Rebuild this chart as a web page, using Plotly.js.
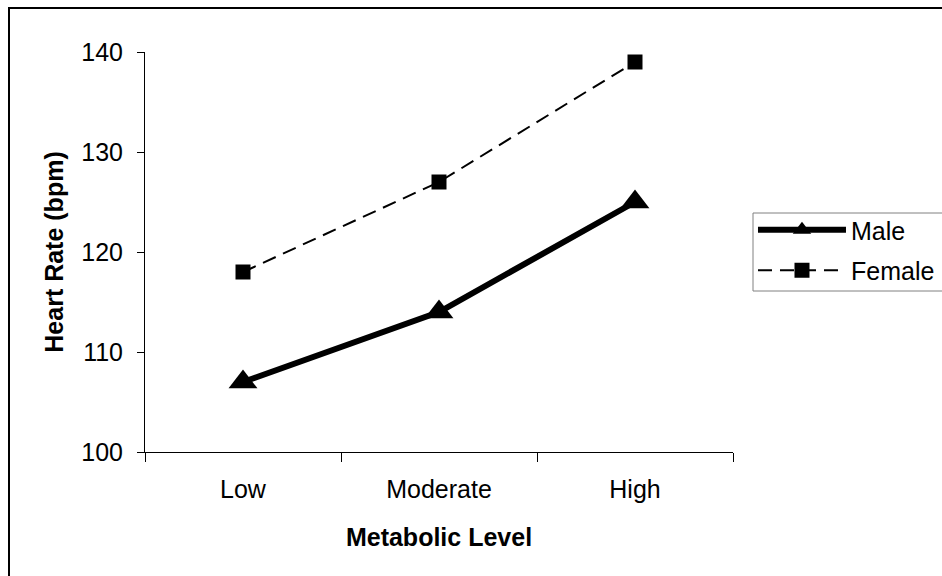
<!DOCTYPE html>
<html>
<head>
<meta charset="utf-8">
<script src="https://cdn.plot.ly/plotly-3.0.1.min.js"></script>
<style>
html,body{margin:0;padding:0;background:#fff;}
#chart{width:942px;height:576px;}
</style>
</head>
<body>
<div id="chart"></div>
<script>
const categories = ["Low", "Moderate", "High"];
const maleValues = [107, 114, 125];
const femaleValues = [118, 127, 139];
const yTickValues = [100, 110, 120, 130, 140];
const seriesNames = ["Male", "Female"];

const FONT = "Arial, 'Liberation Sans', sans-serif";

const traces = [
  {
    x: categories, y: maleValues, name: seriesNames[0], type: "scatter", mode: "lines+markers",
    line: {color: "#000", width: 6},
    marker: {symbol: "triangle-up", size: 25, color: "#000"},
    legendgroup: "m"
  },
  {
    x: categories, y: femaleValues, name: seriesNames[1], type: "scatter", mode: "lines+markers",
    line: {color: "#000", width: 2, dash: "14px,8px"},
    marker: {symbol: "square", size: 15, color: "#000"},
    legendgroup: "f"
  }
];

const layout = {
  width: 942, height: 576,
  margin: {l: 145, r: 209, t: 52, b: 124, autoexpand: false},
  paper_bgcolor: "#fff", plot_bgcolor: "#fff",
  font: {family: FONT, size: 25, color: "#000"},
  showlegend: true,
  legend: {
    x: 1.034, y: (452 - 207) / 400, xanchor: "left", yanchor: "top",
    borderwidth: 0, bgcolor: "rgba(0,0,0,0)",
    font: {family: FONT, size: 25, color: "#000"},
    itemwidth: 88, tracegroupgap: 5, traceorder: "grouped"
  },
  xaxis: {
    type: "category", range: [-0.5, 2.5], tickson: "boundaries",
    showline: true, linecolor: "#000", linewidth: 1,
    ticks: "outside", ticklen: 9, tickcolor: "#000", tickwidth: 1,
    showgrid: false, zeroline: false, fixedrange: true,
    ticklabelstandoff: 15,
    tickfont: {family: FONT, size: 25, color: "#000"},
    title: {text: "<b>Metabolic Level</b>", font: {family: FONT, size: 25, color: "#000"}, standoff: 26}
  },
  yaxis: {
    range: [100, 140], tickvals: yTickValues,
    showline: true, linecolor: "#000", linewidth: 1,
    ticks: "outside", ticklen: 7, tickcolor: "#000", tickwidth: 1,
    showgrid: false, zeroline: false, fixedrange: true,
    ticklabelstandoff: 9,
    tickfont: {family: FONT, size: 25, color: "#000"},
    title: {text: "<b>Heart Rate (bpm)</b>", font: {family: FONT, size: 25, color: "#000"}, standoff: 10}
  },
  shapes: [
    {type: "rect", xref: "paper", yref: "paper",
     x0: (9 - 145) / 588, x1: 2, y0: -2, y1: (452 - 8) / 400,
     line: {color: "#000", width: 2}, fillcolor: "rgba(0,0,0,0)", layer: "below"},
    {type: "rect", xref: "paper", yref: "paper",
     x0: (753 - 145) / 588, x1: 2, y0: (452 - 291) / 400, y1: (452 - 213) / 400,
     line: {color: "#808080", width: 1}, fillcolor: "rgba(0,0,0,0)", layer: "below"}
  ]
};

Plotly.newPlot("chart", traces, layout, {displayModeBar: false, staticPlot: true});
</script>
</body>
</html>
